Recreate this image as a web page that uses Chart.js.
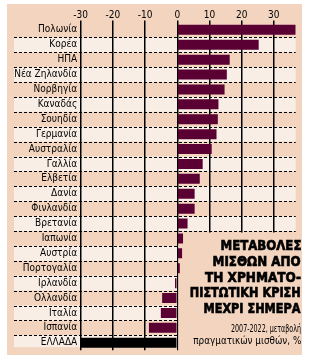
<!DOCTYPE html>
<html><head><meta charset="utf-8">
<script src="https://cdn.jsdelivr.net/npm/chart.js@4/dist/chart.umd.min.js"></script>
<style>
html,body{margin:0;padding:0;background:#fff;}
#wrap{position:relative;width:311px;height:364px;overflow:hidden;}
canvas{display:block;}
.t{position:absolute;right:10px;white-space:nowrap;transform-origin:right top;color:#000;}
.h{font-family:'DejaVu Sans',sans-serif;font-weight:bold;font-size:14px;line-height:14px;-webkit-text-stroke:0.7px #000;}
.s{font-family:'DejaVu Sans',sans-serif;font-size:10px;line-height:10px;}
</style></head>
<body><div id="wrap"><canvas id="c" width="311" height="364"></canvas>
<div class="t h" data-w="81" style="top:238px">ΜΕΤΑΒΟΛΕΣ</div>
<div class="t h" data-w="88" style="top:254px">ΜΙΣΘΩΝ ΑΠΟ</div>
<div class="t h" data-w="96" style="top:269.5px">ΤΗ ΧΡΗΜΑΤΟ-</div>
<div class="t h" data-w="111" style="top:285px">ΠΙΣΤΩΤΙΚΗ ΚΡΙΣΗ</div>
<div class="t h" data-w="97" style="top:300.5px">ΜΕΧΡΙ ΣΗΜΕΡΑ</div>
<div class="t s" data-w="70" style="top:324px">2007-2022, μεταβολή</div>
<div class="t s" data-w="108" style="top:336px">πραγματικών μισθών, %</div>
</div>
<script>
const categories = ['Πολωνία','Κορέα','ΗΠΑ','Νέα Ζηλανδία','Νορβηγία','Καναδάς','Σουηδία','Γερμανία','Αυστραλία','Γαλλία','Ελβετία','Δανία','Φινλανδία','Βρετανία','Ιαπωνία','Αυστρία','Πορτογαλία','Ιρλανδία','Ολλανδία','Ιταλία','Ισπανία','ΕΛΛΑΔΑ'];
const values = [36.8, 25.3, 16.3, 15.4, 14.7, 12.8, 12.6, 12.2, 10.7, 7.9, 7.0, 5.4, 5.4, 3.2, 1.8, 1.5, 0.8, -0.7, -4.7, -5.1, -8.8, -30];
const tickValues = [-30, -20, -10, 0, 10, 20, 30];
const highlight = 'ΕΛΛΑΔΑ';

const PEACH = '#f2d4bf';
const LIGHT = '#f8eee5';
const BAR = '#5b0033';
const FONT = "'Liberation Sans Narrow','DejaVu Sans Condensed',Roboto,sans-serif";

const bgPlugin = {
  id: 'bg',
  beforeDraw(chart) {
    const {ctx, chartArea: a} = chart;
    const n = categories.length;
    const step = (a.bottom - a.top) / n;
    ctx.save();
    ctx.fillStyle = PEACH;
    ctx.fillRect(7, 4, 295, 351);
    ctx.fillStyle = LIGHT;
    for (let i = 1; i < n; i += 2) {
      const y0 = a.top + i * step;
      const h = (i === n - 1) ? step - 3 : step;
      ctx.fillRect(14, y0, a.right - 14, h);
    }
    ctx.strokeStyle = '#000';
    ctx.lineWidth = 1;
    ctx.setLineDash([3, 2]);
    for (let i = 1; i < n; i++) {
      const yy = Math.round(a.top + i * step) + 0.5;
      ctx.beginPath(); ctx.moveTo(14, yy); ctx.lineTo(a.right, yy); ctx.stroke();
    }
    ctx.restore();
  },
  beforeDatasetsDraw(chart) {
    const {ctx, chartArea: a, scales: {x}} = chart;
    const n = categories.length;
    const step = (a.bottom - a.top) / n;
    const top = Math.round(a.top + 14 * step) + 1.5;
    const left = x.getPixelForValue(0) + 1;
    ctx.save();
    ctx.fillStyle = PEACH;
    ctx.fillRect(left, top, 302 - left, 355 - top);
    ctx.restore();
  }
};

new Chart(document.getElementById('c'), {
  type: 'bar',
  data: {
    labels: categories,
    datasets: [{
      data: values,
      backgroundColor: categories.map(c => c === highlight ? '#000' : BAR),
      barPercentage: 0.67,
      categoryPercentage: 1
    }]
  },
  options: {
    indexAxis: 'y',
    responsive: false,
    animation: false,
    devicePixelRatio: 1,
    layout: {padding: {left: 0, top: 0, right: 15.3, bottom: 13.8}},
    plugins: {legend: {display: false}, tooltip: {enabled: false}},
    scales: {
      x: {
        position: 'top',
        min: -30, max: 36.8,
        afterBuildTicks: s => { s.ticks = tickValues.map(v => ({value: v})); },
        afterFit: s => { s.height = 22.4; },
        border: {display: false},
        grid: {color: '#000', lineWidth: 1.5, tickLength: 2, drawTicks: true},
        ticks: {color: '#000', padding: 0, font: {family: FONT, size: 10, lineHeight: 1}, maxRotation: 0}
      },
      y: {
        afterFit: s => { s.width = 80.7; },
        border: {display: false},
        grid: {display: false, drawTicks: false},
        ticks: {color: '#000', padding: 3.5, font: {family: FONT, size: 10}, autoSkip: false}
      }
    }
  },
  plugins: [bgPlugin]
});

document.querySelectorAll('.t').forEach(el => {
  const w = el.getBoundingClientRect().width;
  el.style.transform = 'scaleX(' + (el.dataset.w / w) + ')';
});
</script>
</body></html>
